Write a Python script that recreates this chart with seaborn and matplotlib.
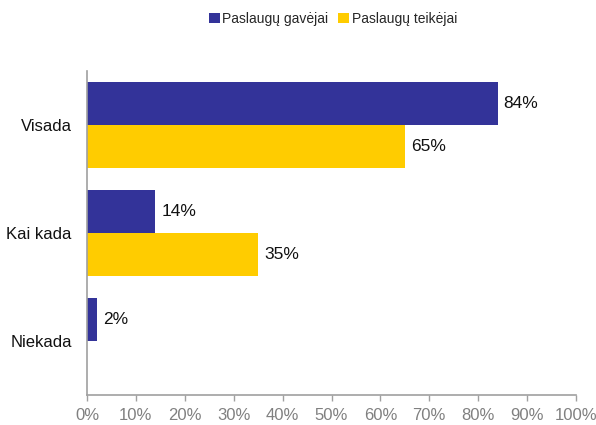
import numpy as np
import pandas as pd
import matplotlib
matplotlib.use("Agg")
import matplotlib.pyplot as plt
import seaborn as sns

categories = ["Visada", "Kai kada", "Niekada"]
series_names = ["Paslaugų gavėjai", "Paslaugų teikėjai"]
gavejai = [84, 14, 2]
teikejai = [65, 35, np.nan]
x_ticks = [0, 10, 20, 30, 40, 50, 60, 70, 80, 90, 100]
colors = ["#333399", "#FFCC00"]

df = pd.DataFrame({
    "cat": categories * 2,
    "series": [series_names[0]] * 3 + [series_names[1]] * 3,
    "value": gavejai + teikejai,
})

sns.set_theme(style="white")
plt.rcParams["font.family"] = ["Liberation Sans", "DejaVu Sans"]

fig = plt.figure(figsize=(5.96, 4.25), dpi=100)
ax = fig.add_axes([87 / 596, 30 / 425, 489 / 596, 324 / 425])

sns.barplot(data=df, y="cat", x="value", hue="series", order=categories,
            hue_order=series_names, palette=colors, orient="h", width=0.8,
            saturation=1, linewidth=0, edgecolor="none", ax=ax, legend=True)

for cont in ax.containers:
    for bar in cont:
        w = bar.get_width()
        if np.isnan(w) or w <= 0:
            continue
        ax.text(w + 1.2, bar.get_y() + bar.get_height() / 2, f"{w:.0f}%",
                va="center", ha="left", fontsize=12.5, color="#111111")

ax.set_xlim(0, 100)
ax.set_ylim(2.5, -0.5)
ax.set_xticks(x_ticks)
ax.set_xticklabels([f"{t}%" for t in x_ticks])
ax.set_xlabel("")
ax.set_ylabel("")
ax.tick_params(axis="x", colors="#a0a0a0", labelcolor="#808080", labelsize=12,
               length=4, width=1, direction="out", bottom=True, pad=5)
ax.tick_params(axis="y", length=0, labelsize=12, labelcolor="#111111", pad=11)

for side in ["top", "right"]:
    ax.spines[side].set_visible(False)
for side in ["left", "bottom"]:
    ax.spines[side].set_color("#a0a0a0")
    ax.spines[side].set_linewidth(1.2)

handles, labels = ax.get_legend_handles_labels()
ax.legend_.remove()
fig.legend(handles, labels, loc="center", bbox_to_anchor=(333 / 596, 1 - 19 / 425),
           ncol=2, frameon=False, fontsize=10, handlelength=0.8, handleheight=0.8,
           handletextpad=0.2, columnspacing=0.7)

fig.savefig("out.png", dpi=100)
